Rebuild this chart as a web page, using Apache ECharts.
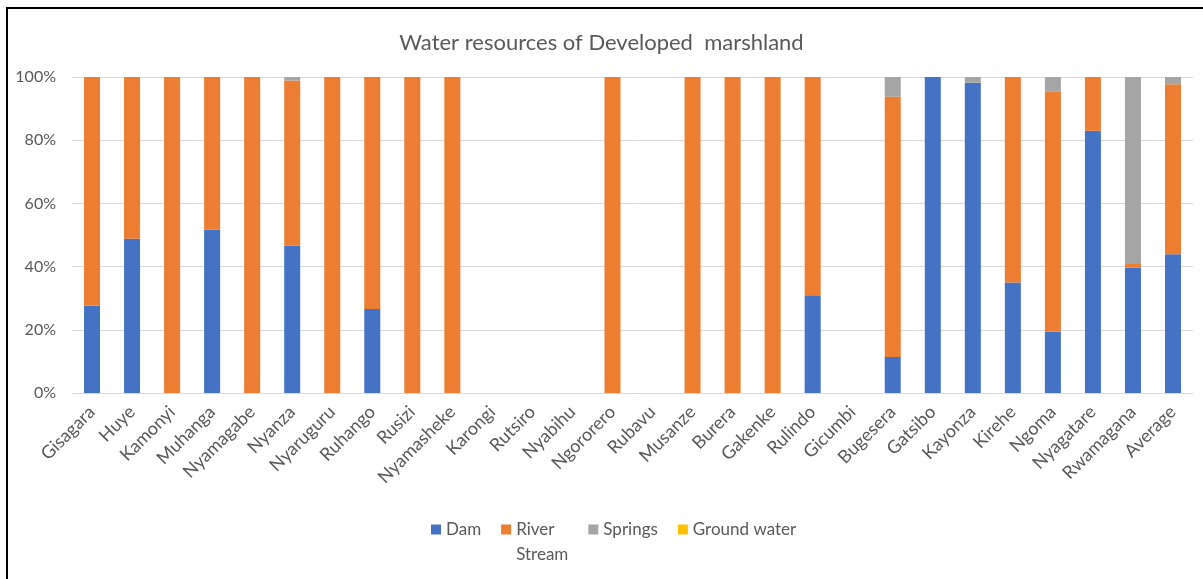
<!DOCTYPE html>
<html>
<head>
<meta charset="utf-8">
<script src="https://cdn.jsdelivr.net/npm/echarts@6/dist/echarts.min.js"></script>
<style>
  html, body { margin: 0; padding: 0; background: #fff; }
  #frame { position: absolute; left: 6px; top: 7px; right: 0; bottom: 0; border-left: 2px solid #000; border-top: 2px solid #000; }
  #main { position: absolute; left: 0; top: 0; width: 1203px; height: 579px; }
</style>
</head>
<body>
<div id="frame"></div>
<div id="main"></div>
<script>
// districts (last one is the average)
const districts = ['Gisagara', 'Huye', 'Kamonyi', 'Muhanga', 'Nyamagabe', 'Nyanza', 'Nyaruguru', 'Ruhango',
  'Rusizi', 'Nyamasheke', 'Karongi', 'Rutsiro', 'Nyabihu', 'Ngororero', 'Rubavu', 'Musanze', 'Burera',
  'Gakenke', 'Rulindo', 'Gicumbi', 'Bugesera', 'Gatsibo', 'Kayonza', 'Kirehe', 'Ngoma', 'Nyagatare',
  'Rwamagana', 'Average'];

// share in % per source
const dam = [27.6, 48.8, 0, 51.7, 0, 46.6, 0, 26.6, 0, 0, null, null, null, 0, null, 0, 0,
  0, 30.9, null, 11.4, 100, 98.2, 35.0, 19.4, 83.0, 39.7, 43.9];
const river = [72.4, 51.2, 100, 48.3, 100, 52.3, 100, 73.4, 100, 100, null, null, null, 100, null, 100, 100,
  100, 69.1, null, 82.4, 0, 0, 65.0, 76.1, 17.0, 1.4, 53.8];
const springs = [0, 0, 0, 0, 0, 1.1, 0, 0, 0, 0, null, null, null, 0, null, 0, 0,
  0, 0, null, 6.2, 0, 1.8, 0, 4.5, 0, 58.9, 2.3];
const groundWater = [0, 0, 0, 0, 0, 0, 0, 0, 0, 0, null, null, null, 0, null, 0, 0,
  0, 0, null, 0, 0, 0, 0, 0, 0, 0, 0];

const yTicks = [0, 20, 40, 60, 80, 100];

const font = 'Lato, "Open Sans", sans-serif';
const grey = '#595959';

const chart = echarts.init(document.getElementById('main'));

function bar(name, data, color) {
  return {
    name: name,
    type: 'bar',
    stack: 'total',
    barWidth: 16,
    data: data,
    itemStyle: { color: color }
  };
}

chart.setOption({
  animation: false,
  title: {
    text: 'Water resources of Developed  marshland',
    left: 'center',
    top: 27,
    textStyle: { fontFamily: font, fontSize: 22, fontWeight: 'normal', color: grey }
  },
  legend: {
    left: 426,
    top: 487,
    itemWidth: 10,
    itemHeight: 10,
    itemGap: 20,
    icon: 'rect',
    // blank first line keeps "River" level with the icon, "Stream" wraps below
    formatter: name => name === 'River Stream' ? '\u00a0\nRiver\nStream' : name,
    textStyle: { fontFamily: font, fontSize: 17, color: grey, lineHeight: 25 },
    data: ['Dam', 'River Stream', 'Springs', 'Ground water']
  },
  grid: { left: 72, right: 10, top: 77, bottom: 186 },
  xAxis: {
    type: 'category',
    data: districts,
    axisLine: { lineStyle: { color: '#d9d9d9' } },
    axisTick: { show: false },
    axisLabel: { rotate: 45, interval: 0, fontFamily: font, fontSize: 18, color: grey, margin: 16 }
  },
  yAxis: {
    type: 'value',
    min: yTicks[0],
    max: yTicks[yTicks.length - 1],
    interval: 20,
    axisLine: { show: false },
    axisTick: { show: false },
    splitLine: { lineStyle: { color: '#d9d9d9' } },
    axisLabel: { formatter: '{value}%', fontFamily: font, fontSize: 16, color: grey, margin: 16 }
  },
  series: [
    bar('Dam', dam, '#4472C4'),
    bar('River Stream', river, '#ED7D31'),
    bar('Springs', springs, '#A5A5A5'),
    bar('Ground water', groundWater, '#FFC000')
  ]
});
</script>
</body>
</html>
